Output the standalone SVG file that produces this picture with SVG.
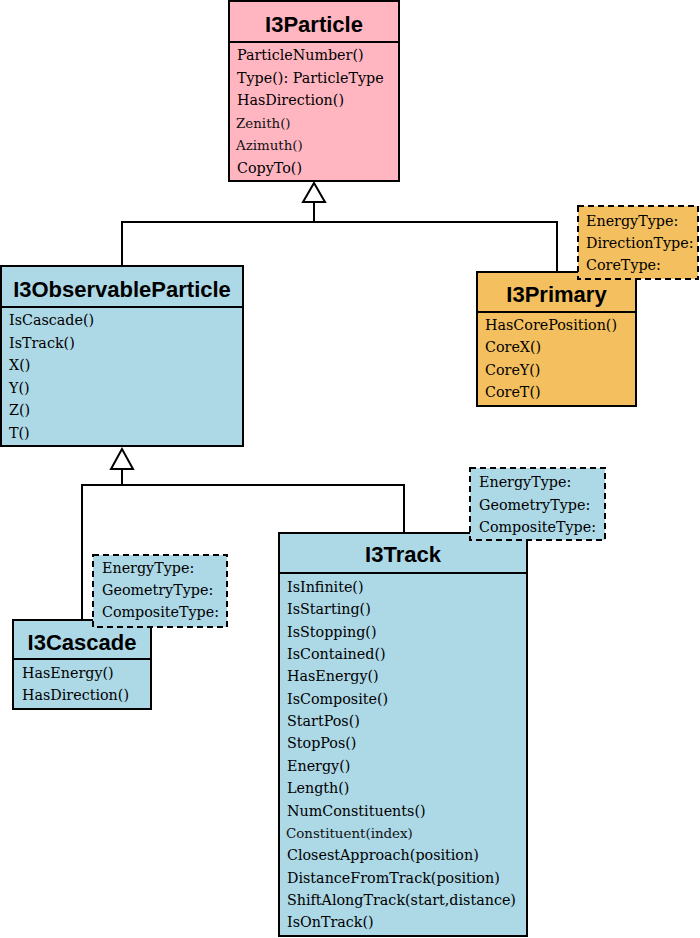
<svg xmlns="http://www.w3.org/2000/svg" width="700" height="938" viewBox="0 0 700 938">
  <style>
    .box { stroke: #000; stroke-width: 2; }
    .note { stroke: #000; stroke-width: 2; stroke-dasharray: 6 4; }
    .pink { fill: #FFB6C1; }
    .blue { fill: #ADD8E6; }
    .orange { fill: #F3BF5F; }
    .div { stroke: #000; stroke-width: 2; }
    .title { font-family: "Liberation Sans", Arial, sans-serif; font-weight: bold; font-size: 22px; text-anchor: middle; fill: #000; }
    .m { font-family: "DejaVu Serif", "Liberation Serif", serif; font-size: 14.3px; fill: #000; }
    .s { font-family: "DejaVu Serif", "Liberation Serif", serif; font-size: 13.4px; fill: #111; }
    .conn { fill: none; stroke: #000; stroke-width: 2; }
    .tri { fill: #fff; stroke: #000; stroke-width: 2; stroke-linejoin: miter; }
  </style>

  <!-- generalisation connectors -->
  <g id="connectors">
    <polyline class="conn" points="314,203 314,222"/>
    <polyline class="conn" points="122,266 122,222 557,222 557,272"/>
    <polygon class="tri" points="314,183 303,202 325,202"/>
    <polyline class="conn" points="122,469 122,485"/>
    <polyline class="conn" points="82,620 82,485 404,485 404,533"/>
    <polygon class="tri" points="122,449 111,469 133,469"/>
  </g>

  <!-- I3Particle -->
  <g id="I3Particle">
    <rect class="box pink" x="229" y="1" width="170" height="180"/>
    <line class="div" x1="229" y1="42" x2="399" y2="42"/>
    <text class="title" x="314" y="32">I3Particle</text>
    <text class="m" x="237" y="60">ParticleNumber()</text>
    <text class="m" x="237" y="82.5">Type(): ParticleType</text>
    <text class="m" x="237" y="105">HasDirection()</text>
    <text class="s" x="236" y="127.5">Zenith()</text>
    <text class="s" x="236" y="150">Azimuth()</text>
    <text class="m" x="237" y="172.5">CopyTo()</text>
  </g>

  <!-- I3ObservableParticle -->
  <g id="I3ObservableParticle">
    <rect class="box blue" x="1" y="266" width="242" height="180"/>
    <line class="div" x1="1" y1="307" x2="243" y2="307"/>
    <text class="title" x="122" y="297">I3ObservableParticle</text>
    <text class="m" x="9" y="325">IsCascade()</text>
    <text class="m" x="9" y="347.5">IsTrack()</text>
    <text class="m" x="9" y="370">X()</text>
    <text class="m" x="9" y="392.5">Y()</text>
    <text class="m" x="9" y="415">Z()</text>
    <text class="m" x="9" y="437.5">T()</text>
  </g>

  <!-- I3Primary -->
  <g id="I3Primary">
    <rect class="box orange" x="477" y="272" width="159" height="134"/>
    <line class="div" x1="477" y1="312" x2="636" y2="312"/>
    <text class="title" x="556.5" y="302">I3Primary</text>
    <text class="m" x="485" y="330">HasCorePosition()</text>
    <text class="m" x="485" y="352.3">CoreX()</text>
    <text class="m" x="485" y="374.6">CoreY()</text>
    <text class="m" x="485" y="397">CoreT()</text>
  </g>
  <g id="I3Primary-types">
    <rect class="note orange" x="578" y="206" width="120" height="73"/>
    <text class="m" x="586" y="226">EnergyType:</text>
    <text class="m" x="586" y="248">DirectionType:</text>
    <text class="m" x="586" y="270">CoreType:</text>
  </g>

  <!-- I3Cascade -->
  <g id="I3Cascade">
    <rect class="box blue" x="13" y="620" width="138" height="89"/>
    <line class="div" x1="13" y1="659" x2="151" y2="659"/>
    <text class="title" x="82" y="650">I3Cascade</text>
    <text class="m" x="22" y="678">HasEnergy()</text>
    <text class="m" x="22" y="700">HasDirection()</text>
  </g>
  <g id="I3Cascade-types">
    <rect class="note blue" x="93" y="555" width="134" height="72"/>
    <text class="m" x="102" y="573">EnergyType:</text>
    <text class="m" x="102" y="595">GeometryType:</text>
    <text class="m" x="102" y="617">CompositeType:</text>
  </g>

  <!-- I3Track -->
  <g id="I3Track">
    <rect class="box blue" x="279" y="533" width="248" height="403"/>
    <line class="div" x1="279" y1="573" x2="527" y2="573"/>
    <text class="title" x="403" y="562">I3Track</text>
    <text class="m" x="287" y="592">IsInfinite()</text>
    <text class="m" x="287" y="614.3">IsStarting()</text>
    <text class="m" x="287" y="636.7">IsStopping()</text>
    <text class="m" x="287" y="659">IsContained()</text>
    <text class="m" x="287" y="681.4">HasEnergy()</text>
    <text class="m" x="287" y="703.7">IsComposite()</text>
    <text class="m" x="287" y="726">StartPos()</text>
    <text class="m" x="287" y="748.4">StopPos()</text>
    <text class="m" x="287" y="770.8">Energy()</text>
    <text class="m" x="287" y="793.1">Length()</text>
    <text class="m" x="287" y="815.5">NumConstituents()</text>
    <text class="s" x="286" y="837.8">Constituent(index)</text>
    <text class="m" x="287" y="860.2">ClosestApproach(position)</text>
    <text class="m" x="287" y="882.5">DistanceFromTrack(position)</text>
    <text class="m" x="287" y="904.9">ShiftAlongTrack(start,distance)</text>
    <text class="m" x="287" y="927.2">IsOnTrack()</text>
  </g>
  <g id="I3Track-types">
    <rect class="note blue" x="470" y="468" width="135" height="72"/>
    <text class="m" x="479" y="487">EnergyType:</text>
    <text class="m" x="479" y="509.5">GeometryType:</text>
    <text class="m" x="479" y="532">CompositeType:</text>
  </g>
</svg>
